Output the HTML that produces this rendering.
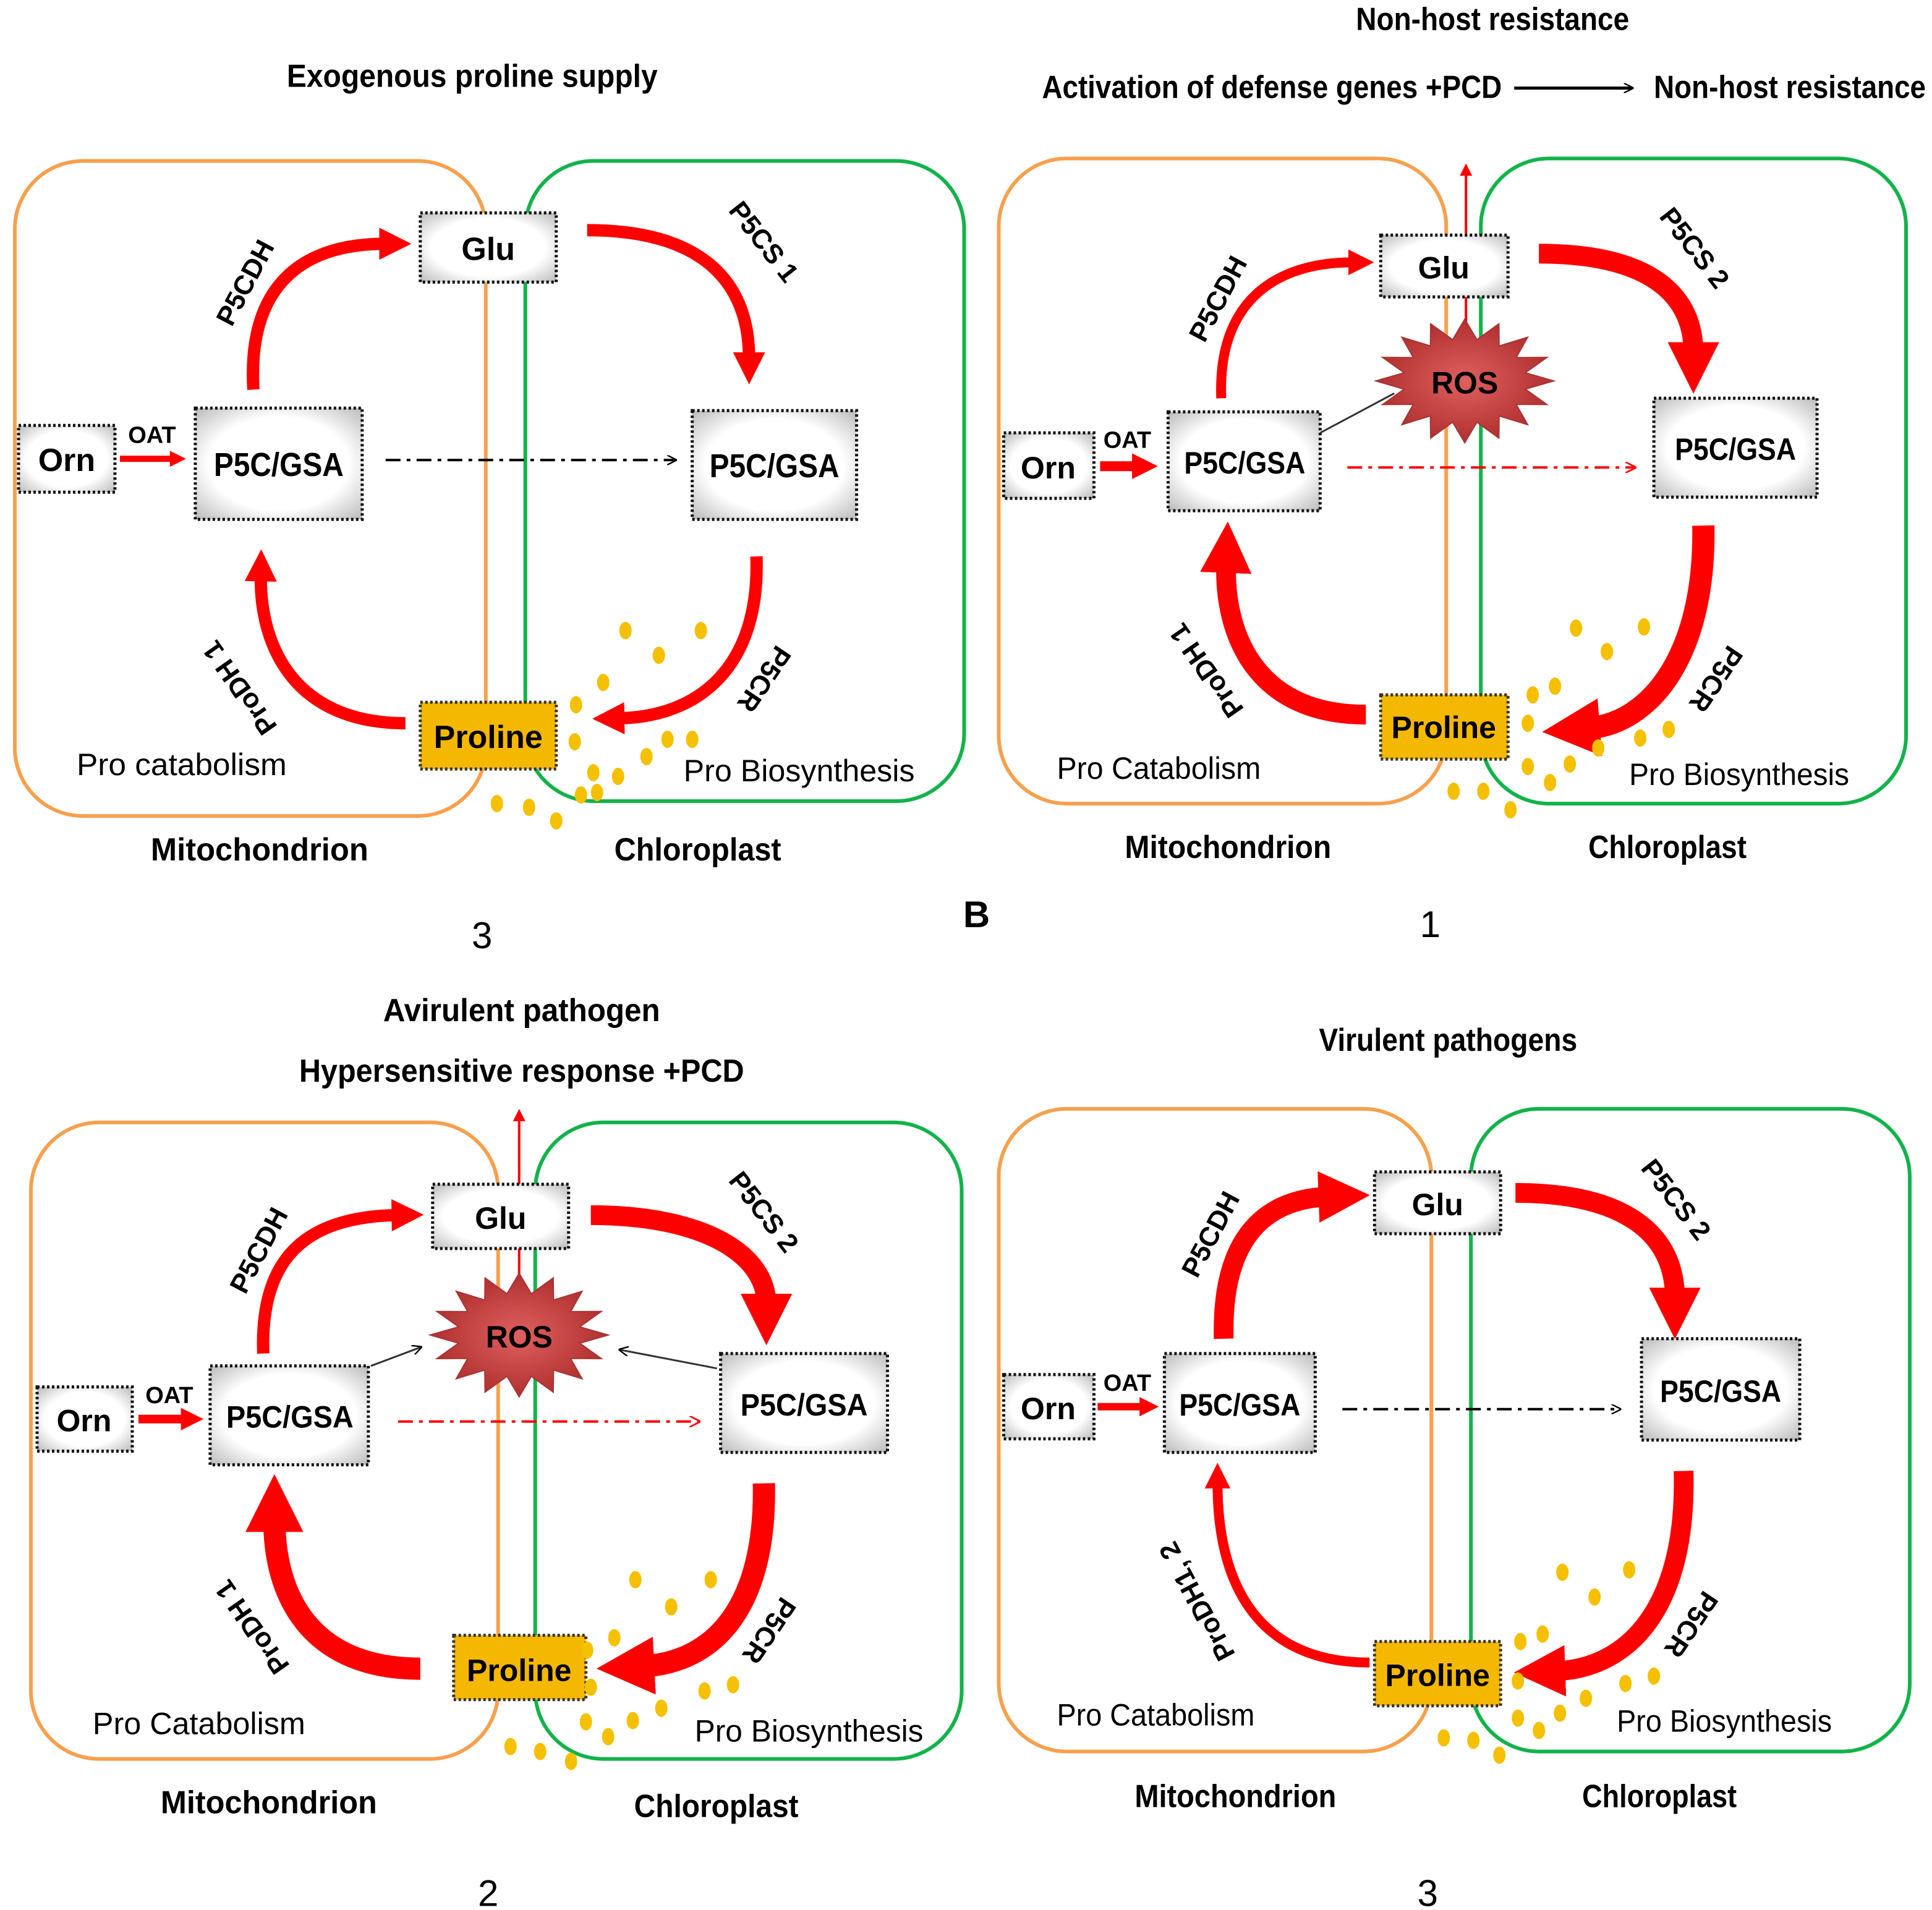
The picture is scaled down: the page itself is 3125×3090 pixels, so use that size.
<!DOCTYPE html>
<html><head><meta charset="utf-8"><style>
html,body{margin:0;padding:0;background:#fff}
svg{display:block}
text{font-family:"Liberation Sans",sans-serif}
.b{font-weight:bold}
.box{fill:url(#bg);stroke:#111;stroke-width:2.5;stroke-dasharray:2 2}
.pro{fill:#f5b800;stroke:#333;stroke-width:2.5;stroke-dasharray:2 2}
.or{fill:none;stroke:#f7a04d;stroke-width:3}
.gr{fill:none;stroke:#12b34a;stroke-width:3}
.ar{fill:none;stroke:#f00}
.dot{fill:#f5c000}
</style></head><body>
<svg width="3125" height="3090" viewBox="0 0 1563 1545" xmlns="http://www.w3.org/2000/svg">
<defs>
<marker id="m" viewBox="0 0 10 10" refX="2" refY="5" markerWidth="2.6" markerHeight="2.6" orient="auto" markerUnits="strokeWidth"><path d="M0,0 L10,5 L0,10 z" fill="#f00"/></marker>
<marker id="mk" viewBox="0 0 10 10" refX="8" refY="5" markerWidth="8" markerHeight="8" orient="auto" markerUnits="userSpaceOnUse"><path d="M0,0 L10,5 L0,10" fill="none" stroke="#000" stroke-width="1.5"/></marker>
<marker id="mr" viewBox="0 0 10 10" refX="8" refY="5" markerWidth="9" markerHeight="9" orient="auto" markerUnits="userSpaceOnUse"><path d="M0,0 L10,5 L0,10" fill="none" stroke="#f00" stroke-width="1.5"/></marker>
<marker id="mt" viewBox="0 0 10 10" refX="2" refY="5" markerWidth="10" markerHeight="12" orient="auto" markerUnits="userSpaceOnUse"><path d="M0,0 L10,5 L0,10 z" fill="#f00"/></marker>
<radialGradient id="bg" cx="50%" cy="50%" r="70%"><stop offset="60%" stop-color="#fff"/><stop offset="100%" stop-color="#bbb"/></radialGradient>
<radialGradient id="rg"><stop offset="0%" stop-color="#e06060"/><stop offset="100%" stop-color="#b03030"/></radialGradient>
<g id="ros"><polygon fill="url(#rg)" stroke="#a33" stroke-width="1" points="72,0 49,6.6 66.5,19.1 41.6,18.9 50.9,35.4 27.8,28.3 27.6,46.2 9.8,33.4 0,50 -9.8,33.4 -27.6,46.2 -27.8,28.3 -50.9,35.4 -41.6,18.9 -66.5,19.1 -49,6.6 -72,0 -49,-6.6 -66.5,-19.1 -41.6,-18.9 -50.9,-35.4 -27.8,-28.3 -27.6,-46.2 -9.8,-33.4 0,-50 9.8,-33.4 27.6,-46.2 27.8,-28.3 50.9,-35.4 41.6,-18.9 66.5,-19.1 49,-6.6"/></g>
</defs>

<!-- ===== TOP LEFT (3) ===== -->
<text x="232" y="70" font-size="26" class="b" textLength="300" lengthAdjust="spacingAndGlyphs">Exogenous proline supply</text>
<rect class="or" x="12" y="130" width="381" height="530" rx="55"/>
<rect class="gr" x="425" y="130" width="355" height="518" rx="55"/>
<path class="ar" stroke-width="10" marker-end="url(#m)" d="M205,315 C200,230 245,197 312,197"/>
<path class="ar" stroke-width="10" marker-end="url(#m)" d="M475,186 C565,186 606,225 606,290"/>
<path class="ar" stroke-width="10" marker-end="url(#m)" d="M612,450 C615,540 565,580 500,581"/>
<path class="ar" stroke-width="10" marker-end="url(#m)" d="M328,585 C240,585 210,525 211,465"/>
<path class="ar" stroke-width="5" marker-end="url(#m)" d="M97,371 L140,371"/>
<line x1="312" y1="372" x2="546" y2="372" stroke="#000" stroke-width="2" stroke-dasharray="12 5 3 5" marker-end="url(#mk)"/>
<rect class="box" x="340" y="172" width="110" height="56"/><text x="395" y="210" font-size="26" text-anchor="middle" class="b">Glu</text>
<rect class="box" x="15" y="344" width="78" height="54"/><text x="54" y="381" font-size="26" text-anchor="middle" class="b">Orn</text>
<text x="123" y="358" font-size="19" text-anchor="middle" class="b">OAT</text>
<rect class="box" x="158" y="330" width="135" height="90"/><text x="173" y="385" font-size="27" class="b" textLength="105" lengthAdjust="spacingAndGlyphs">P5C/GSA</text>
<rect class="box" x="560" y="332" width="133" height="88"/><text x="574" y="386" font-size="27" class="b" textLength="105" lengthAdjust="spacingAndGlyphs">P5C/GSA</text>
<rect class="pro" x="340" y="568" width="110" height="54"/><text x="395" y="605" font-size="26" text-anchor="middle" class="b">Proline</text>
<text transform="translate(205,232) rotate(-62)" font-size="22" text-anchor="middle" class="b">P5CDH</text>
<text transform="translate(612,200) rotate(52)" font-size="22" text-anchor="middle" class="b">P5CS 1</text>
<text transform="translate(612,545) rotate(124)" font-size="22" text-anchor="middle" class="b">P5CR</text>
<text transform="translate(200,552) rotate(-125)" font-size="22" text-anchor="middle" class="b">ProDH 1</text>
<text x="62" y="627" font-size="25" textLength="170" lengthAdjust="spacingAndGlyphs">Pro catabolism</text>
<text x="553" y="632" font-size="25" textLength="187" lengthAdjust="spacingAndGlyphs">Pro Biosynthesis</text>
<text x="122" y="696" font-size="26" class="b" textLength="176" lengthAdjust="spacingAndGlyphs">Mitochondrion</text>
<text x="497" y="696" font-size="26" class="b" textLength="135" lengthAdjust="spacingAndGlyphs">Chloroplast</text>
<text x="390" y="767" font-size="30" text-anchor="middle">3</text>
<g class="dot"><ellipse cx="506" cy="510" rx="5" ry="7"/><ellipse cx="533" cy="530" rx="5" ry="7"/><ellipse cx="567" cy="510" rx="5" ry="7"/><ellipse cx="466" cy="570" rx="5" ry="7"/><ellipse cx="488" cy="552" rx="5" ry="7"/><ellipse cx="465" cy="600" rx="5" ry="7"/><ellipse cx="480" cy="625" rx="5" ry="7"/><ellipse cx="500" cy="628" rx="5" ry="7"/><ellipse cx="523" cy="612" rx="5" ry="7"/><ellipse cx="540" cy="598" rx="5" ry="7"/><ellipse cx="470" cy="643" rx="5" ry="7"/><ellipse cx="402" cy="650" rx="5" ry="7"/><ellipse cx="428" cy="653" rx="5" ry="7"/><ellipse cx="450" cy="664" rx="5" ry="7"/><ellipse cx="483" cy="641" rx="5" ry="7"/><ellipse cx="560" cy="598" rx="5" ry="7"/></g>

<!-- ===== TOP RIGHT (1) ===== -->
<text x="1097" y="24" font-size="26" class="b" textLength="221" lengthAdjust="spacingAndGlyphs">Non-host resistance</text>
<text x="843" y="79" font-size="26" class="b" textLength="372" lengthAdjust="spacingAndGlyphs">Activation of defense genes +PCD</text>
<line x1="1225" y1="71" x2="1320" y2="71" stroke="#000" stroke-width="2.5" marker-end="url(#mk)"/>
<text x="1338" y="79" font-size="26" class="b" textLength="220" lengthAdjust="spacingAndGlyphs">Non-host resistance</text>
<rect class="or" x="808" y="128" width="362" height="522" rx="55"/>
<rect class="gr" x="1198" y="128" width="344" height="522" rx="55"/>
<line x1="1186" y1="190" x2="1186" y2="140" stroke="#f00" stroke-width="2" marker-end="url(#mt)"/>
<line x1="1186" y1="240" x2="1186" y2="270" stroke="#f00" stroke-width="2"/>
<use href="#ros" x="1185" y="308"/>
<text x="1185" y="318" font-size="25" text-anchor="middle" class="b">ROS</text>
<line x1="1068" y1="350" x2="1128" y2="318" stroke="#333" stroke-width="1.5"/>
<line x1="1090" y1="378" x2="1322" y2="378" stroke="#f00" stroke-width="2" stroke-dasharray="12 5 3 5" marker-end="url(#mr)"/>
<path class="ar" stroke-width="8" marker-end="url(#m)" d="M988,322 C985,245 1030,212 1095,212"/>
<path class="ar" stroke-width="16" marker-end="url(#m)" d="M1245,205 C1330,205 1370,235 1370,285"/>
<path class="ar" stroke-width="18" marker-end="url(#m)" d="M1378,425 C1380,530 1335,585 1285,589"/>
<path class="ar" stroke-width="16" marker-end="url(#m)" d="M1105,578 C1010,578 990,505 992,455"/>
<path class="ar" stroke-width="8" marker-end="url(#m)" d="M890,377 L920,377"/>
<rect class="box" x="1117" y="190" width="103" height="50"/><text x="1168" y="225" font-size="25" text-anchor="middle" class="b">Glu</text>
<rect class="box" x="812" y="350" width="73" height="53"/><text x="848" y="387" font-size="25" text-anchor="middle" class="b">Orn</text>
<text x="912" y="362" font-size="19" text-anchor="middle" class="b">OAT</text>
<rect class="box" x="945" y="333" width="123" height="80"/><text x="958" y="383" font-size="25" class="b" textLength="98" lengthAdjust="spacingAndGlyphs">P5C/GSA</text>
<rect class="box" x="1338" y="322" width="132" height="80"/><text x="1355" y="372" font-size="25" class="b" textLength="98" lengthAdjust="spacingAndGlyphs">P5C/GSA</text>
<rect class="pro" x="1117" y="562" width="103" height="52"/><text x="1168" y="597" font-size="25" text-anchor="middle" class="b">Proline</text>
<text transform="translate(992,245) rotate(-62)" font-size="22" text-anchor="middle" class="b">P5CDH</text>
<text transform="translate(1365,205) rotate(52)" font-size="22" text-anchor="middle" class="b">P5CS 2</text>
<text transform="translate(1382,545) rotate(124)" font-size="22" text-anchor="middle" class="b">P5CR</text>
<text transform="translate(982,538) rotate(-125)" font-size="22" text-anchor="middle" class="b">ProDH 1</text>
<text x="855" y="630" font-size="25" textLength="165" lengthAdjust="spacingAndGlyphs">Pro Catabolism</text>
<text x="1318" y="635" font-size="25" textLength="178" lengthAdjust="spacingAndGlyphs">Pro Biosynthesis</text>
<text x="910" y="694" font-size="26" class="b" textLength="167" lengthAdjust="spacingAndGlyphs">Mitochondrion</text>
<text x="1285" y="694" font-size="26" class="b" textLength="128" lengthAdjust="spacingAndGlyphs">Chloroplast</text>
<text x="790" y="750" font-size="30" text-anchor="middle" class="b">B</text>
<text x="1157" y="758" font-size="30" text-anchor="middle">1</text>
<g class="dot"><ellipse cx="1275" cy="508" rx="5" ry="7"/><ellipse cx="1300" cy="527" rx="5" ry="7"/><ellipse cx="1330" cy="507" rx="5" ry="7"/><ellipse cx="1240" cy="562" rx="5" ry="7"/><ellipse cx="1258" cy="555" rx="5" ry="7"/><ellipse cx="1236" cy="585" rx="5" ry="7"/><ellipse cx="1236" cy="620" rx="5" ry="7"/><ellipse cx="1254" cy="633" rx="5" ry="7"/><ellipse cx="1270" cy="618" rx="5" ry="7"/><ellipse cx="1293" cy="605" rx="5" ry="7"/><ellipse cx="1327" cy="597" rx="5" ry="7"/><ellipse cx="1176" cy="640" rx="5" ry="7"/><ellipse cx="1200" cy="640" rx="5" ry="7"/><ellipse cx="1222" cy="655" rx="5" ry="7"/><ellipse cx="1350" cy="590" rx="5" ry="7"/></g>

<!-- ===== BOTTOM LEFT (2) ===== -->
<text x="310" y="826" font-size="26" class="b" textLength="224" lengthAdjust="spacingAndGlyphs">Avirulent pathogen</text>
<text x="242" y="875" font-size="26" class="b" textLength="360" lengthAdjust="spacingAndGlyphs">Hypersensitive response  +PCD</text>
<rect class="or" x="25" y="908" width="378" height="515" rx="55"/>
<rect class="gr" x="433" y="908" width="345" height="515" rx="55"/>
<line x1="420" y1="958" x2="420" y2="905" stroke="#f00" stroke-width="2" marker-end="url(#mt)"/>
<line x1="420" y1="1010" x2="420" y2="1040" stroke="#f00" stroke-width="2"/>
<use href="#ros" x="420" y="1080"/>
<text x="420" y="1090" font-size="25" text-anchor="middle" class="b">ROS</text>
<line x1="300" y1="1105" x2="340" y2="1090" stroke="#333" stroke-width="1.5" marker-end="url(#mk)"/>
<line x1="580" y1="1107" x2="502" y2="1092" stroke="#333" stroke-width="1.5" marker-end="url(#mk)"/>
<line x1="322" y1="1150" x2="565" y2="1150" stroke="#f00" stroke-width="2" stroke-dasharray="12 5 3 5" marker-end="url(#mr)"/>
<path class="ar" stroke-width="10" marker-end="url(#m)" d="M213,1095 C210,1015 250,984 322,983"/>
<path class="ar" stroke-width="16" marker-end="url(#m)" d="M478,983 C570,983 620,1015 620,1055"/>
<path class="ar" stroke-width="18" marker-end="url(#m)" d="M618,1200 C620,1300 578,1345 520,1348"/>
<path class="ar" stroke-width="18" marker-end="url(#m)" d="M340,1350 C250,1350 222,1290 222,1230"/>
<path class="ar" stroke-width="7" marker-end="url(#m)" d="M112,1148 L150,1148"/>
<rect class="box" x="350" y="958" width="110" height="52"/><text x="405" y="994" font-size="25" text-anchor="middle" class="b">Glu</text>
<rect class="box" x="30" y="1122" width="77" height="52"/><text x="68" y="1158" font-size="25" text-anchor="middle" class="b">Orn</text>
<text x="137" y="1135" font-size="19" text-anchor="middle" class="b">OAT</text>
<rect class="box" x="170" y="1105" width="128" height="80"/><text x="183" y="1155" font-size="25" class="b" textLength="103" lengthAdjust="spacingAndGlyphs">P5C/GSA</text>
<rect class="box" x="583" y="1095" width="135" height="80"/><text x="599" y="1145" font-size="25" class="b" textLength="103" lengthAdjust="spacingAndGlyphs">P5C/GSA</text>
<rect class="pro" x="367" y="1323" width="107" height="52"/><text x="420" y="1360" font-size="25" text-anchor="middle" class="b">Proline</text>
<text transform="translate(216,1015) rotate(-62)" font-size="22" text-anchor="middle" class="b">P5CDH</text>
<text transform="translate(612,985) rotate(52)" font-size="22" text-anchor="middle" class="b">P5CS 2</text>
<text transform="translate(616,1315) rotate(124)" font-size="22" text-anchor="middle" class="b">P5CR</text>
<text transform="translate(210,1312) rotate(-125)" font-size="22" text-anchor="middle" class="b">ProDH 1</text>
<text x="75" y="1403" font-size="25" textLength="172" lengthAdjust="spacingAndGlyphs">Pro Catabolism</text>
<text x="562" y="1409" font-size="25" textLength="185" lengthAdjust="spacingAndGlyphs">Pro Biosynthesis</text>
<text x="130" y="1467" font-size="26" class="b" textLength="175" lengthAdjust="spacingAndGlyphs">Mitochondrion</text>
<text x="513" y="1470" font-size="26" class="b" textLength="133" lengthAdjust="spacingAndGlyphs">Chloroplast</text>
<text x="395" y="1542" font-size="30" text-anchor="middle">2</text>
<g class="dot"><ellipse cx="514" cy="1278" rx="5" ry="7"/><ellipse cx="543" cy="1300" rx="5" ry="7"/><ellipse cx="575" cy="1278" rx="5" ry="7"/><ellipse cx="475" cy="1335" rx="5" ry="7"/><ellipse cx="497" cy="1325" rx="5" ry="7"/><ellipse cx="478" cy="1365" rx="5" ry="7"/><ellipse cx="474" cy="1393" rx="5" ry="7"/><ellipse cx="492" cy="1405" rx="5" ry="7"/><ellipse cx="512" cy="1392" rx="5" ry="7"/><ellipse cx="535" cy="1382" rx="5" ry="7"/><ellipse cx="570" cy="1368" rx="5" ry="7"/><ellipse cx="593" cy="1363" rx="5" ry="7"/><ellipse cx="413" cy="1413" rx="5" ry="7"/><ellipse cx="437" cy="1417" rx="5" ry="7"/><ellipse cx="462" cy="1425" rx="5" ry="7"/></g>

<!-- ===== BOTTOM RIGHT (3) ===== -->
<text x="1067" y="850" font-size="26" class="b" textLength="209" lengthAdjust="spacingAndGlyphs">Virulent pathogens</text>
<rect class="or" x="808" y="897" width="350" height="520" rx="55"/>
<rect class="gr" x="1190" y="897" width="355" height="520" rx="55"/>
<line x1="1086" y1="1140" x2="1310" y2="1140" stroke="#000" stroke-width="2" stroke-dasharray="12 5 3 5" marker-end="url(#mk)"/>
<path class="ar" stroke-width="16" marker-end="url(#m)" d="M990,1083 C988,1005 1020,970 1075,968"/>
<path class="ar" stroke-width="16" marker-end="url(#m)" d="M1226,965 C1310,965 1355,995 1355,1050"/>
<path class="ar" stroke-width="16" marker-end="url(#m)" d="M1362,1190 C1365,1300 1318,1350 1258,1352"/>
<path class="ar" stroke-width="8" marker-end="url(#m)" d="M1108,1345 C1020,1345 985,1285 985,1200"/>
<path class="ar" stroke-width="6" marker-end="url(#m)" d="M888,1138 L925,1138"/>
<rect class="box" x="1112" y="948" width="102" height="50"/><text x="1163" y="983" font-size="25" text-anchor="middle" class="b">Glu</text>
<rect class="box" x="812" y="1112" width="73" height="52"/><text x="848" y="1148" font-size="25" text-anchor="middle" class="b">Orn</text>
<text x="912" y="1125" font-size="19" text-anchor="middle" class="b">OAT</text>
<rect class="box" x="942" y="1095" width="122" height="80"/><text x="954" y="1145" font-size="25" class="b" textLength="98" lengthAdjust="spacingAndGlyphs">P5C/GSA</text>
<rect class="box" x="1328" y="1083" width="128" height="82"/><text x="1343" y="1134" font-size="25" class="b" textLength="98" lengthAdjust="spacingAndGlyphs">P5C/GSA</text>
<rect class="pro" x="1112" y="1328" width="102" height="52"/><text x="1163" y="1364" font-size="25" text-anchor="middle" class="b">Proline</text>
<text transform="translate(986,1002) rotate(-62)" font-size="22" text-anchor="middle" class="b">P5CDH</text>
<text transform="translate(1350,975) rotate(52)" font-size="22" text-anchor="middle" class="b">P5CS 2</text>
<text transform="translate(1362,1310) rotate(124)" font-size="22" text-anchor="middle" class="b">P5CR</text>
<text transform="translate(975,1292) rotate(-118)" font-size="22" text-anchor="middle" class="b">ProDH1, 2</text>
<text x="855" y="1396" font-size="25" textLength="160" lengthAdjust="spacingAndGlyphs">Pro Catabolism</text>
<text x="1308" y="1401" font-size="25" textLength="174" lengthAdjust="spacingAndGlyphs">Pro Biosynthesis</text>
<text x="918" y="1462" font-size="26" class="b" textLength="163" lengthAdjust="spacingAndGlyphs">Mitochondrion</text>
<text x="1280" y="1462" font-size="26" class="b" textLength="125" lengthAdjust="spacingAndGlyphs">Chloroplast</text>
<text x="1155" y="1542" font-size="30" text-anchor="middle">3</text>
<g class="dot"><ellipse cx="1264" cy="1272" rx="5" ry="7"/><ellipse cx="1290" cy="1292" rx="5" ry="7"/><ellipse cx="1318" cy="1270" rx="5" ry="7"/><ellipse cx="1230" cy="1328" rx="5" ry="7"/><ellipse cx="1248" cy="1322" rx="5" ry="7"/><ellipse cx="1228" cy="1360" rx="5" ry="7"/><ellipse cx="1228" cy="1390" rx="5" ry="7"/><ellipse cx="1245" cy="1400" rx="5" ry="7"/><ellipse cx="1262" cy="1386" rx="5" ry="7"/><ellipse cx="1283" cy="1374" rx="5" ry="7"/><ellipse cx="1315" cy="1362" rx="5" ry="7"/><ellipse cx="1338" cy="1356" rx="5" ry="7"/><ellipse cx="1168" cy="1406" rx="5" ry="7"/><ellipse cx="1192" cy="1408" rx="5" ry="7"/><ellipse cx="1213" cy="1420" rx="5" ry="7"/></g>
</svg>
</body></html>
